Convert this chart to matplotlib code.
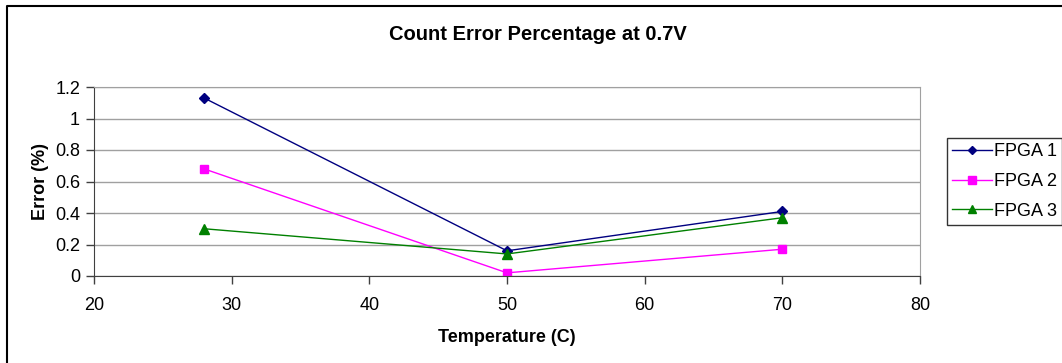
import matplotlib.pyplot as plt
from matplotlib.lines import Line2D

plt.rcParams['font.family'] = ['Liberation Sans', 'DejaVu Sans']

# data
temps = [28, 50, 70]
fpga1 = [1.13, 0.16, 0.41]
fpga2 = [0.68, 0.02, 0.17]
fpga3 = [0.30, 0.14, 0.37]

fig = plt.figure(figsize=(10.62, 3.63), dpi=100)
ax = fig.add_axes([94/1062, 1-276/363, 826/1062, 189/363])

ax.plot(temps, fpga1, color='#000080', marker='D', markersize=5, lw=1, label='FPGA 1')
ax.plot(temps, fpga2, color='#FF00FF', marker='s', markersize=6, lw=1, label='FPGA 2')
ax.plot(temps, fpga3, color='#008000', marker='^', markersize=7, lw=1, label='FPGA 3')

ax.set_xlim(20, 80)
ax.set_ylim(0, 1.2)
ax.set_xticks(range(20, 81, 10))
ax.set_yticks([0, 0.2, 0.4, 0.6, 0.8, 1, 1.2])
ax.set_yticklabels(['0', '0.2', '0.4', '0.6', '0.8', '1', '1.2'])
ax.yaxis.grid(True, color='#a0a0a0', lw=1)
ax.set_axisbelow(True)
ax.tick_params(labelsize=13, direction='out', length=6, width=1, color='#404040')
ax.tick_params(axis='x', pad=9)
ax.tick_params(axis='y', pad=4)

for s in ['top', 'right']:
    ax.spines[s].set_color('#a0a0a0')
for s in ['left', 'bottom']:
    ax.spines[s].set_color('#404040')

fig.text(538/1062, 1-35/363, 'Count Error Percentage at 0.7V', fontsize=14.5,
         fontweight='bold', ha='center', va='center')
ax.set_xlabel('Temperature (C)', fontsize=13, fontweight='bold', labelpad=11)
ax.set_ylabel('Error (%)', fontsize=13, fontweight='bold', labelpad=4)

leg = fig.legend(loc='upper left', bbox_to_anchor=(947/1062, 1-138/363), fontsize=13,
                 frameon=True, fancybox=False, handlelength=2.2, handletextpad=0.1,
                 borderpad=0.3, labelspacing=0.7, borderaxespad=0, markerscale=0.9)
leg.get_frame().set_edgecolor('black')
leg.get_frame().set_linewidth(1)

# outer chart border
fig.add_artist(Line2D([7/1062, 7/1062, 1], [0, 1-6/363, 1-6/363], color='black', lw=1.5,
                      transform=fig.transFigure))

fig.savefig('out.png', dpi=100)
